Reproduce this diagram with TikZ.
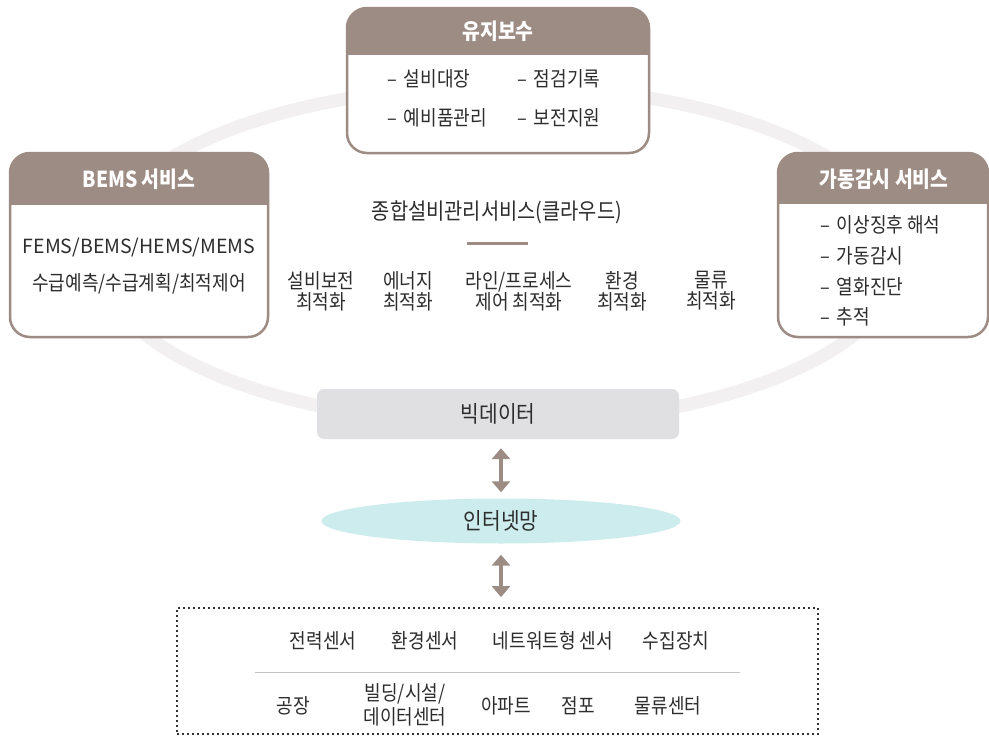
\documentclass[tikz,border=0pt]{standalone}
\usepackage{fontspec}
\setmainfont{Noto Sans CJK KR}[FakeStretch=0.88]
\newfontfamily\latinwide{Noto Sans CJK KR}
\usetikzlibrary{arrows.meta,shapes.geometric}
\definecolor{hdr}{RGB}{157,140,132}
\definecolor{ringc}{RGB}{242,240,241}
\definecolor{bdfill}{RGB}{224,224,226}
\definecolor{netfill}{RGB}{205,236,238}
\definecolor{txt}{RGB}{45,45,45}
\definecolor{sepc}{RGB}{195,195,195}
\definecolor{dotc}{RGB}{50,50,50}
\tikzset{
  holder/.style={inner sep=0pt, outer sep=0pt},
  cardline/.style={draw=hdr, line width=2.5pt, rounded corners=20pt},
  hdrtext/.style={text=white, font=\fontsize{22}{26}\selectfont\bfseries},
  body/.style={text=txt, font=\fontsize{20.5}{21}\selectfont, align=center, inner sep=0pt},
  title/.style={text=txt, font=\fontsize{22.5}{26}\selectfont, inner sep=0pt},
  ringline/.style={draw=ringc, line width=13pt},
  bdbox/.style={fill=bdfill, rounded corners=7pt, minimum width=362pt, minimum height=50pt, inner sep=0pt, text=txt, font=\fontsize{23}{26}\selectfont},
  netell/.style={ellipse, fill=netfill, minimum width=359pt, minimum height=45pt, inner sep=0pt, text=txt, font=\fontsize{23}{26}\selectfont},
  dblarrow/.style={draw=hdr, line width=4pt, {Triangle[width=18pt,length=11pt]}-{Triangle[width=18pt,length=11pt]}},
  dotbox/.style={draw=dotc, line width=1.8pt, dash pattern=on 1.8pt off 3.2pt, inner sep=0pt, minimum width=641pt, minimum height=126pt},
}
\begin{document}
\begin{tikzpicture}[x=1pt,y=-1pt]
\useasboundingbox[fill=white] (0,0) rectangle (989,736);

% ring
\draw[ringline] (500,255) ellipse [x radius=402pt, y radius=169pt];

% ---------- top card: maintenance ----------
\node[holder, minimum width=302pt, minimum height=145pt] (mnt) at (498,80.5) {};
\fill[white, rounded corners=20pt] (mnt.north west) rectangle (mnt.south east);
\begin{scope}
  \clip[rounded corners=20pt] (mnt.north west) rectangle (mnt.south east);
  \fill[hdr] (mnt.north west) rectangle (649,55);
\end{scope}
\draw[cardline] (mnt.north west) rectangle (mnt.south east);
\node[hdrtext] (mnth) at (498,31) {유지보수};
\node[body, anchor=west] (m1) at (387,79) {–\hspace{3pt} 설비대장};
\node[body, anchor=west] (m2) at (517,79) {–\hspace{3pt} 점검기록};
\node[body, anchor=west] (m3) at (387,118) {–\hspace{3pt} 예비품관리};
\node[body, anchor=west] (m4) at (517,118) {–\hspace{3pt} 보전지원};

% ---------- left card: BEMS ----------
\node[holder, minimum width=258pt, minimum height=184pt] (bems) at (139,245) {};
\fill[white, rounded corners=20pt] (bems.north west) rectangle (bems.south east);
\begin{scope}
  \clip[rounded corners=20pt] (bems.north west) rectangle (bems.south east);
  \fill[hdr] (bems.north west) rectangle (268,205);
\end{scope}
\draw[cardline] (bems.north west) rectangle (bems.south east);
\node[hdrtext] (bemsh) at (139,179) {BEMS 서비스};
\node[body, font=\latinwide\fontsize{19.5}{21}\selectfont] (b1) at (139,248) {FEMS/BEMS/HEMS/MEMS};
\node[body] (b2) at (139,284) {수급예측/수급계획/최적제어};

% ---------- right card: monitoring ----------
\node[holder, minimum width=210pt, minimum height=184pt] (mon) at (883,245) {};
\fill[white, rounded corners=20pt] (mon.north west) rectangle (mon.south east);
\begin{scope}
  \clip[rounded corners=20pt] (mon.north west) rectangle (mon.south east);
  \fill[hdr] (mon.north west) rectangle (988,204);
\end{scope}
\draw[cardline] (mon.north west) rectangle (mon.south east);
\node[hdrtext] (monh) at (884,179) {가동감시 서비스};
\node[body, anchor=west] (r1) at (820,225) {–\hspace{3pt} 이상징후 해석};
\node[body, anchor=west] (r2) at (820,256) {–\hspace{3pt} 가동감시};
\node[body, anchor=west] (r3) at (820,287) {–\hspace{3pt} 열화진단};
\node[body, anchor=west] (r4) at (820,317) {–\hspace{3pt} 추적};

% ---------- centre ----------
\node[title] (cloud) at (497,212) {종합설비관리서비스(클라우드)};
\coordinate (sepL) at (467,243);
\coordinate (sepR) at (528,243);
\draw[draw=hdr, line width=3pt] (sepL) -- (sepR);
\node[body] (o1) at (321,291) {설비보전\\최적화};
\node[body] (o2) at (408,291) {에너지\\최적화};
\node[body] (o3) at (519,291) {라인/프로세스\\제어 최적화};
\node[body] (o4) at (622,291) {환경\\최적화};
\node[body] (o5) at (711,291) {물류\\최적화};

% ---------- big data / internet ----------
\node[bdbox] (bd) at (498,414) {빅데이터};
\node[netell] (net) at (501,521) {인터넷망};
\node[dotbox] (field) at (497.5,671) {};
\path (bd.south -| net.north) coordinate (bdfoot);
\path (field.north -| net.south) coordinate (fieldtop);
\draw[dblarrow] ([yshift=-9pt]bdfoot) -- ([yshift=6pt]net.north);
\draw[dblarrow] ([yshift=-11pt]net.south) -- ([yshift=10pt]fieldtop);

% ---------- field devices ----------
\node[body] (s1) at (323,641) {전력센서};
\node[body] (s2) at (425,641) {환경센서};
\node[body] (s3) at (553,641) {네트워트형 센서};
\node[body] (s4) at (676,641) {수집장치};
\coordinate (fsL) at (255,672);
\coordinate (fsR) at (740,672);
\draw[draw=sepc, line width=1pt] (fsL) -- (fsR);
\node[body] (p1) at (293,706) {공장};
\node[body, font=\fontsize{20.5}{24}\selectfont] (p2) at (405,705) {빌딩/시설/\\데이터센터};
\node[body] (p3) at (506,706) {아파트};
\node[body] (p4) at (578,706) {점포};
\node[body] (p5) at (668,706) {물류센터};
\end{tikzpicture}
\end{document}
